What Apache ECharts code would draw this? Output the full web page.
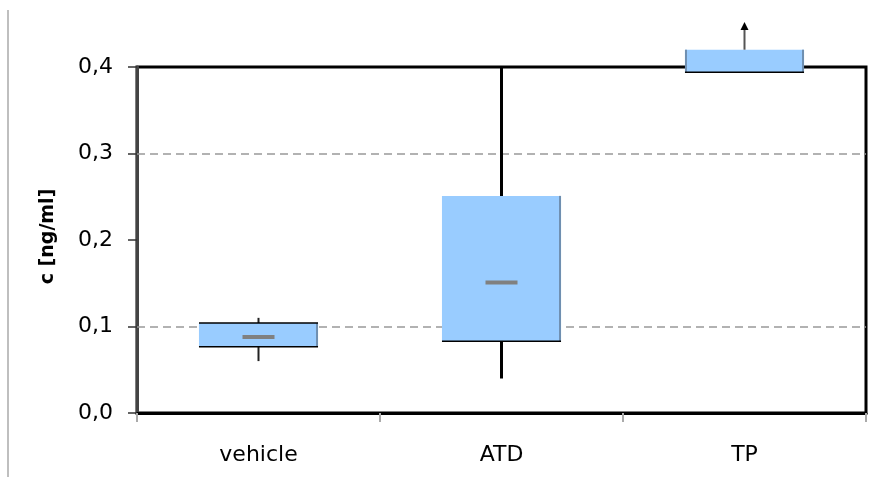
<!DOCTYPE html>
<html>
<head>
<meta charset="utf-8">
<script src="https://cdn.jsdelivr.net/npm/echarts@6/dist/echarts.min.js"></script>
<style>
  html, body { margin: 0; padding: 0; background: #fff; }
  #chart { width: 877px; height: 477px; }
</style>
</head>
<body>
<div id="chart"></div>
<script>
// Concentration per treatment group: box (quartiles), median bar and whiskers
const categories = ['vehicle', 'ATD', 'TP'];
const boxLow = [0.0765, 0.083, 0.394];
const boxHigh = [0.104, 0.251, 0.420];
const medians = [0.088, 0.151, null];
const whiskerLow = [0.060, 0.040, null];
const whiskerHigh = [0.110, 0.400, 0.452];
const offScale = [0, 0, 1];          // 1 = upper range continues beyond the axis (arrow)
const gridValues = [0.1, 0.3];       // dashed reference lines

const FONT = 'DejaVu Sans';

const boxData = categories.map((c, i) => [
  i, boxLow[i], boxHigh[i],
  medians[i] == null ? NaN : medians[i],
  whiskerLow[i] == null ? NaN : whiskerLow[i],
  whiskerHigh[i] == null ? NaN : whiskerHigh[i],
  offScale[i]
]);

function renderBox(params, api) {
  const i = api.value(0);
  const band = api.size([1, 0])[0];
  const w = band * 0.49;
  const xc = api.coord([i, 0])[0];
  const x0 = xc - w / 2;
  const yLo = api.coord([i, api.value(1)])[1];
  const yHi = api.coord([i, api.value(2)])[1];
  const med = api.value(3), wl = api.value(4), wh = api.value(5);
  const arrow = api.value(6) === 1;
  const kids = [];

  // whiskers (behind the box)
  if (!arrow) {
    const yWl = api.coord([i, wl])[1];
    const yWh = api.coord([i, wh])[1];
    const wcol = i === 0 ? '#222' : '#000';
    const wwid = i === 0 ? 2 : 3;
    kids.push({ type: 'line', shape: { x1: xc, y1: yWl, x2: xc, y2: yWh },
      style: { stroke: wcol, lineWidth: wwid } });
  }

  // box body
  kids.push({ type: 'rect', shape: { x: x0, y: yHi, width: w, height: yLo - yHi },
    style: { fill: '#99CCFF' } });
  // darker right edge
  kids.push({ type: 'line', shape: { x1: x0 + w - 1, y1: yHi, x2: x0 + w - 1, y2: yLo },
    style: { stroke: '#6f8fb0', lineWidth: 2 } });
  if (arrow) {
    kids.push({ type: 'line', shape: { x1: x0 + 1, y1: yHi, x2: x0 + 1, y2: yLo },
      style: { stroke: '#6f8fb0', lineWidth: 2 } });
  }
  // bottom edge
  kids.push({ type: 'line', shape: { x1: x0, y1: yLo, x2: x0 + w, y2: yLo },
    style: { stroke: '#000', lineWidth: 1.5 } });
  if (i === 0) {
    kids.push({ type: 'line', shape: { x1: x0, y1: yHi, x2: x0 + w, y2: yHi },
      style: { stroke: '#000', lineWidth: 1.5 } });
  }

  // median bar
  if (!isNaN(med)) {
    const yM = api.coord([i, med])[1];
    kids.push({ type: 'line', shape: { x1: xc - 16, y1: yM, x2: xc + 16, y2: yM },
      style: { stroke: '#808080', lineWidth: 4 } });
  }

  // off-scale arrow
  if (arrow) {
    const yTip = api.coord([i, wh])[1];
    kids.push({ type: 'line', shape: { x1: xc, y1: yHi, x2: xc, y2: yTip + 7 },
      style: { stroke: '#555', lineWidth: 2 } });
    kids.push({ type: 'polygon', shape: { points: [[xc, yTip], [xc - 4, yTip + 8], [xc + 4, yTip + 8]] },
      style: { fill: '#000' } });
  }

  return { type: 'group', children: kids };
}

const chart = echarts.init(document.getElementById('chart'), null, { renderer: 'canvas' });

chart.setOption({
  animation: false,
  backgroundColor: '#fff',
  grid: {
    left: 137, right: 11, top: 67, bottom: 64,
    show: true, borderColor: '#000', borderWidth: 3
  },
  xAxis: {
    type: 'category',
    data: categories,
    boundaryGap: true,
    axisLine: { show: true, lineStyle: { color: '#000', width: 3 } },
    axisTick: { show: true, alignWithLabel: false, length: 9, lineStyle: { color: '#aaa', width: 2 } },
    axisLabel: { color: '#000', fontFamily: FONT, fontSize: 22, margin: 31 },
    splitLine: { show: false }
  },
  yAxis: {
    type: 'value',
    min: 0, max: 0.4, interval: 0.1,
    name: 'c [ng/ml]',
    nameLocation: 'middle',
    nameGap: 79,
    nameRotate: 90,
    nameTextStyle: { color: '#000', fontFamily: FONT, fontSize: 19, fontWeight: 'bold', padding: [0, 0, 0, 7] },
    axisLine: { show: true, lineStyle: { color: '#444', width: 3 } },
    axisTick: { show: true, length: 9, lineStyle: { color: '#333', width: 1.5 } },
    axisLabel: {
      color: '#000', fontFamily: FONT, fontSize: 22, margin: 24,
      formatter: v => v.toFixed(1).replace('.', ',')
    },
    splitLine: { show: false }
  },
  graphic: [{
    type: 'line',
    shape: { x1: 8, y1: 10, x2: 8, y2: 477 },
    style: { stroke: '#aaa', lineWidth: 1.5 },
    z: 0
  }],
  series: [
    {
      type: 'line',
      data: [],
      z: 1,
      silent: true,
      markLine: {
        silent: true,
        symbol: 'none',
        label: { show: false },
        lineStyle: { color: '#999', type: [8, 5], width: 1.5 },
        data: gridValues.map(v => ({ yAxis: v }))
      }
    },
    {
      type: 'custom',
      z: 5,
      clip: false,
      renderItem: renderBox,
      encode: { x: 0, y: [1, 2] },
      data: boxData
    }
  ]
});
</script>
</body>
</html>
